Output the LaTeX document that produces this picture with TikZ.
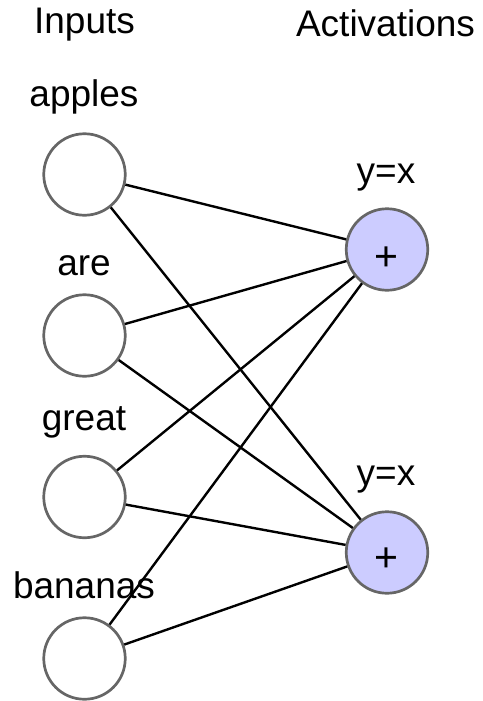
\documentclass[tikz,border=0pt]{standalone}
\usepackage{fontspec}
\setmainfont{Liberation Sans}
\definecolor{ringgray}{HTML}{666666}
\definecolor{actfill}{HTML}{CCCCFF}
\begin{document}
\begin{tikzpicture}[x=1pt,y=-1pt,
  neuron/.style={circle, draw=ringgray, line width=2.7pt, minimum size=81.5pt, inner sep=0pt, fill=white},
  actneuron/.style={neuron, fill=actfill},
  lbl/.style={anchor=base, inner sep=0pt, font=\fontsize{37}{44}\selectfont},
  sumsign/.style={anchor=base, inner sep=0pt, font=\fontsize{41}{48}\selectfont},
  wire/.style={draw=black, line width=2.4pt}]
  \useasboundingbox (0,0) rectangle (482,701);

  % column headings
  \node[lbl] (hin) at (84.5,33.3) {Inputs};
  \node[lbl] (hact) at (385.5,36.7) {Activations};

  % input neurons with their word labels
  \node[neuron] (i1) at (84.5,174.5) {};
  \node[neuron] (i2) at (84.5,335.5) {};
  \node[neuron] (i3) at (84.5,497) {};
  \node[neuron] (i4) at (84.5,658.5) {};
  \node[lbl] (w1) at (84,106.7) {apples};
  \node[lbl] (w2) at (84,275) {are};
  \node[lbl] (w3) at (84,430) {great};
  \node[lbl] (w4) at (84,598.3) {bananas};

  % activation neurons, each with its sum sign and function
  \node[actneuron] (a1) at (387,249.5) {};
  \node[actneuron] (a2) at (387,552.5) {};
  \node[sumsign] (s1) at (386.7,270.3) {+};
  \node[sumsign] (s2) at (386.7,571.9) {+};
  \node[lbl] (f1) at (386,183.3) {y=x};
  \node[lbl] (f2) at (386,485) {y=x};

  % fully connected weights
  \foreach \i in {1,2,3,4}
    \foreach \a in {1,2}
      \draw[wire] (i\i) -- (a\a);
\end{tikzpicture}
\end{document}
